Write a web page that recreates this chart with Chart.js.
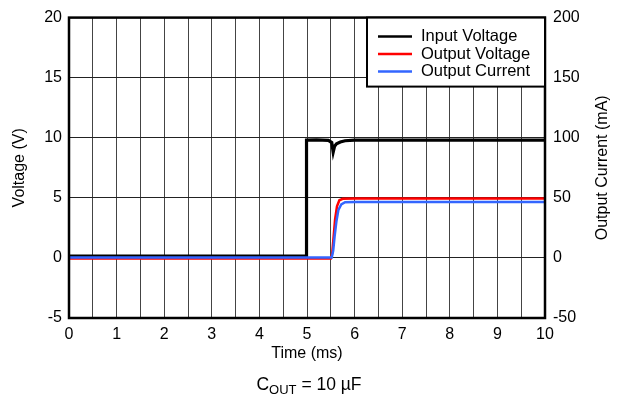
<!DOCTYPE html>
<html lang="en">
<head>
    <meta charset="UTF-8">
    <title>Startup</title>
    <style>
        body { margin: 0; background: #fff; }
        #wrap { position: relative; width: 626px; height: 400px; }
        #caption {
            position: absolute; left: 0; top: 374px; width: 618px; text-align: center;
            font-family: "Liberation Sans", Arial, sans-serif; font-size: 17.5px; color: #000;
        }
        #caption sub { font-size: 13px; vertical-align: -4px; }
    </style>
</head>
<body>
    <div id="wrap">
        <canvas id="chart" width="626" height="400"></canvas>
        <div id="caption">C<sub>OUT</sub> = 10 µF</div>
    </div>
    <script src="https://cdn.jsdelivr.net/npm/chart.js"></script>
    <script>

        // input voltage (V) vs time (ms)
        const inTime = [0, 1, 2, 3, 4, 4.98, 4.99, 5.2, 5.45, 5.52, 5.55, 5.58, 5.62, 5.7, 5.8, 6, 7, 8, 9, 10]
        const inVolt = [0.15, 0.15, 0.15, 0.15, 0.15, 0.15, 9.8, 9.82, 9.78, 9.6, 8.8, 9.3, 9.5, 9.65, 9.75, 9.8, 9.8, 9.8, 9.8, 9.8]

        // output voltage (V) vs time (ms)
        const outTime = [0, 1, 2, 3, 4, 5, 5.5, 5.53, 5.56, 5.59, 5.63, 5.68, 5.75, 6, 7, 8, 9, 10]
        const outVolt = [-0.05, -0.05, -0.05, -0.05, -0.05, -0.05, -0.05, 0.4, 1.8, 3.2, 4.3, 4.8, 4.92, 4.95, 4.95, 4.95, 4.95, 4.95]

        // output current (mA) vs time (ms)
        const curTime = [0, 1, 2, 3, 4, 5, 5.52, 5.55, 5.58, 5.62, 5.66, 5.72, 5.8, 6, 7, 8, 9, 10]
        const curAmp = [0.3, 0.3, 0.3, 0.3, 0.3, 0.3, 0.3, 6, 18, 31, 40, 44.5, 46.3, 46.5, 46.5, 46.5, 46.5, 46.5]

        const xTicks = [0, 1, 2, 3, 4, 5, 6, 7, 8, 9, 10]

        function toPoints(xs, ys) {
            return xs.map((x, i) => ({ x: x, y: ys[i] }))
        }

        const font = "Liberation Sans, Arial, sans-serif"

        const boxPlugin = {
            id: 'box',
            afterDraw(chart) {
                const ctx = chart.ctx
                const a = chart.chartArea
                ctx.save()
                ctx.strokeStyle = '#000'
                ctx.lineWidth = 2.5
                ctx.strokeRect(a.left, a.top, a.right - a.left, a.bottom - a.top)

                // right axis title, reads bottom to top like the left one
                ctx.fillStyle = '#000'
                ctx.font = '16px ' + font
                ctx.textAlign = 'center'
                ctx.textBaseline = 'middle'
                ctx.translate(603, (a.top + a.bottom) / 2)
                ctx.rotate(-Math.PI / 2)
                ctx.fillText('Output Current (mA)', 0, 0)
                ctx.setTransform(1, 0, 0, 1, 0, 0)
                ctx.scale(chart.currentDevicePixelRatio, chart.currentDevicePixelRatio)

                // legend box inside the top right corner
                const bx = 367, by = a.top, bw = a.right - 367, bh = 69
                ctx.fillStyle = '#fff'
                ctx.fillRect(bx, by, bw, bh)
                ctx.lineWidth = 2
                ctx.strokeRect(bx, by, bw, bh)
                ctx.font = '16.5px ' + font
                ctx.textAlign = 'left'
                const rows = [0, 1, 2]
                rows.forEach(i => {
                    const ds = chart.data.datasets[i]
                    const y = by + 19 + i * 17.5
                    ctx.strokeStyle = ds.borderColor
                    ctx.lineWidth = 2.5
                    ctx.beginPath()
                    ctx.moveTo(378, y)
                    ctx.lineTo(412, y)
                    ctx.stroke()
                    ctx.fillStyle = '#000'
                    ctx.fillText(ds.label, 421, y)
                })
                ctx.restore()
            }
        }

        new Chart(document.getElementById('chart'), {
            type: 'line',
            data: {
                datasets: [{
                    label: 'Input Voltage',
                    data: toPoints(inTime, inVolt),
                    borderColor: '#000000',
                    borderWidth: 3.2,
                    yAxisID: 'y',
                    order: 2
                }, {
                    label: 'Output Voltage',
                    data: toPoints(outTime, outVolt),
                    borderColor: '#ff0000',
                    borderWidth: 2.5,
                    yAxisID: 'y',
                    order: 1
                }, {
                    label: 'Output Current',
                    data: toPoints(curTime, curAmp),
                    borderColor: '#3366ff',
                    borderWidth: 2.5,
                    yAxisID: 'y1',
                    order: 0
                }]
            },
            options: {
                responsive: false,
                animation: false,
                elements: { point: { radius: 0 }, line: { tension: 0 } },
                layout: { padding: { top: 16, bottom: 35, left: 0, right: 0 } },
                plugins: { legend: { display: false }, tooltip: { enabled: false } },
                scales: {
                    x: {
                        type: 'linear',
                        min: 0,
                        max: 10,
                        afterFit: s => { s.height = 47 },
                        grid: { color: '#444', lineWidth: 1, drawTicks: false },
                        border: { display: false },
                        ticks: {
                            stepSize: 0.5,
                            autoSkip: false,
                            maxRotation: 0,
                            padding: 7,
                            color: '#000',
                            font: { family: font, size: 16 },
                            callback: v => xTicks.includes(v) ? String(v) : ''
                        },
                        title: {
                            display: true,
                            text: 'Time (ms)',
                            color: '#000',
                            font: { family: font, size: 16 },
                            padding: { top: 0, bottom: 2 }
                        }
                    },
                    y: {
                        position: 'left',
                        min: -5,
                        max: 20,
                        afterFit: s => { s.width = 69 },
                        grid: { color: '#222', lineWidth: 1, drawTicks: false },
                        border: { display: false },
                        ticks: {
                            stepSize: 5,
                            padding: 7,
                            color: '#000',
                            font: { family: font, size: 16 }
                        },
                        title: {
                            display: true,
                            text: 'Voltage (V)',
                            color: '#000',
                            font: { family: font, size: 16 },
                            padding: { top: 10, bottom: 0 }
                        }
                    },
                    y1: {
                        position: 'right',
                        min: -50,
                        max: 200,
                        afterFit: s => { s.width = 81 },
                        grid: { display: false, drawTicks: false },
                        border: { display: false },
                        ticks: {
                            stepSize: 50,
                            padding: 8,
                            color: '#000',
                            font: { family: font, size: 16 }
                        }
                    }
                }
            },
            plugins: [boxPlugin]
        })

    </script>
</body>
</html>
